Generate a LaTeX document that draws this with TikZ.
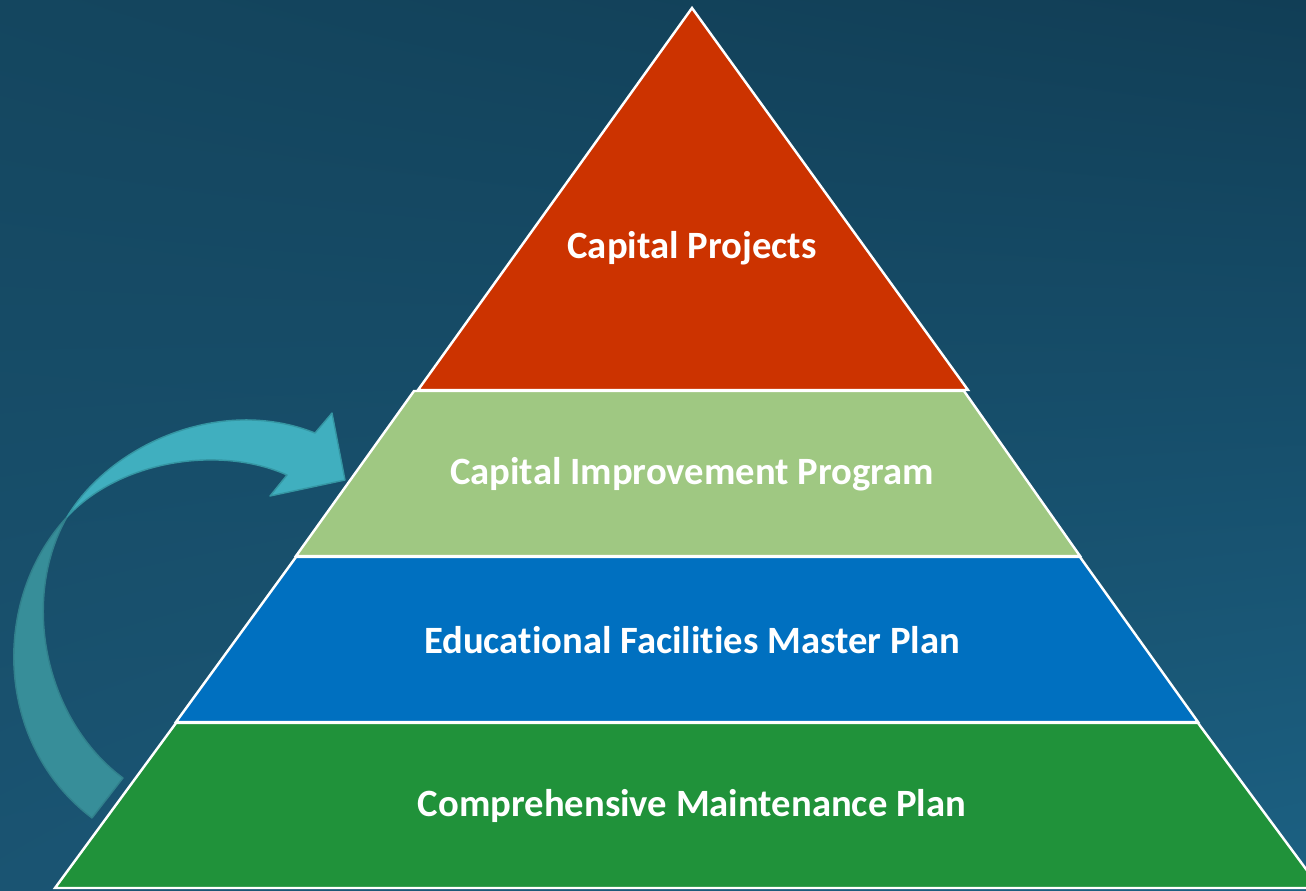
\documentclass[tikz,border=0pt]{standalone}
\usepackage{fontspec}
\setmainfont{Carlito}[Ligatures=NoCommon]
\usepackage{tikz}
\usetikzlibrary{shadings}

\definecolor{bgtl}{HTML}{14465F}
\definecolor{bgtr}{HTML}{113E56}
\definecolor{bgbl}{HTML}{1A5472}
\definecolor{bgbr}{HTML}{1C6183}
\definecolor{cpred}{HTML}{CC3300}
\definecolor{cipgreen}{HTML}{9FC882}
\definecolor{efmpblue}{HTML}{0070C0}
\definecolor{cmpgreen}{HTML}{20923A}
\definecolor{arrowtop}{HTML}{40AFBF}
\definecolor{arrowtopline}{HTML}{3596A3}
\definecolor{arrowlow}{HTML}{378E99}
\definecolor{arrowlowline}{HTML}{31808C}

\begin{document}
\begin{tikzpicture}[x=0.02cm, y=-0.02cm, node distance=3.32cm, semithick]
\tikzstyle{layer}=[draw=white, line width=1.4pt]
\tikzstyle{tier}=[text=white, font=\bfseries\fontsize{22}{26}\selectfont]
\tikzstyle{band}=[line width=0.8pt, line join=round]

\useasboundingbox (0,0) rectangle (1306,890);
\clip (0,0) rectangle (1306,890);
\shade[upper left=bgtl, upper right=bgtr, lower left=bgbl, lower right=bgbr]
  (0,0) rectangle (1306,890);

% pyramid, top to bottom
\filldraw[layer, fill=cpred] (692,8) -- (968,390) -- (418,390) -- cycle;
\filldraw[layer, fill=cipgreen] (414,391) -- (964,391) -- (1080,556) -- (296,556) -- cycle;
\filldraw[layer, fill=efmpblue] (296,557) -- (1080,557) -- (1198,722) -- (176,722) -- cycle;
\filldraw[layer, fill=cmpgreen] (176,723) -- (1198,723) -- (1320,888) -- (55,888) -- cycle;

\node[tier] (cmp) at (692,806) {Comprehensive Maintenance Plan};
\node[tier] (efmp) [above of=cmp] {Educational Facilities Master Plan};
\node[tier] (cip) [above of=efmp] {Capital Improvement Program};
\node[tier] (cp) at (692,248) {Capital Projects};

% curved arrow
\coordinate (twist) at (67,517);
\filldraw[band, fill=arrowlow, draw=arrowlowline]
  (twist) .. controls (-10,600) and (-5,745) .. (92,818)
  -- (123,778) .. controls (45,720) and (20,600) .. (twist) -- cycle;
\filldraw[band, fill=arrowtop, draw=arrowtopline]
  (twist) .. controls (110,445) and (220,395) .. (315,433)
  -- (332,413) -- (345,480) -- (270,496) -- (287,475)
  .. controls (220,445) and (120,460) .. (twist) -- cycle;
\end{tikzpicture}
\end{document}
